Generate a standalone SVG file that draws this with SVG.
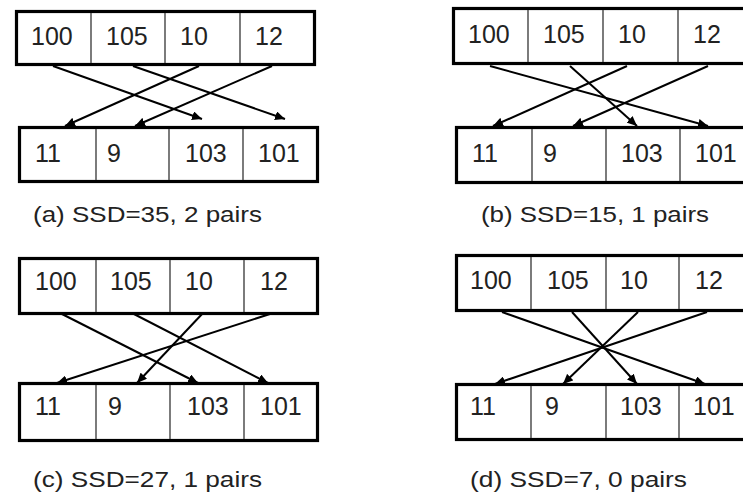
<svg xmlns="http://www.w3.org/2000/svg" width="743" height="496" viewBox="0 0 743 496">
  <style>
    .box { fill: #fff; stroke: #000; stroke-width: 3.2; }
    .div { stroke: #444; stroke-width: 1.4; }
    .val { font-family: "Liberation Sans", Arial, sans-serif; font-size: 25px; fill: #222; }
    .cap { font-family: "Liberation Sans", Arial, sans-serif; font-size: 22px; fill: #222; }
    .arr { stroke: #000; stroke-width: 2; fill: none; marker-end: url(#head); }
  </style>
  <defs>
    <marker id="head" markerUnits="userSpaceOnUse" markerWidth="10" markerHeight="9" refX="10" refY="4.5" orient="auto">
      <path d="M0,0 L10,4.5 L0,9 z" fill="#000"/>
    </marker>
  </defs>
  <rect width="743" height="496" fill="#fff"/>

  <!-- (a) -->
  <g id="a-top">
    <rect class="box" x="16.5" y="11.5" width="298" height="53"/>
    <line class="div" x1="91" y1="13" x2="91" y2="63"/>
    <line class="div" x1="165" y1="13" x2="165" y2="63"/>
    <line class="div" x1="240" y1="13" x2="240" y2="63"/>
    <g id="a-t1"><text class="val" x="31" y="45">100</text></g>
    <g id="a-t2"><text class="val" x="106" y="45">105</text></g>
    <g id="a-t3"><text class="val" x="180" y="45">10</text></g>
    <g id="a-t4"><text class="val" x="255" y="45">12</text></g>
  </g>
  <g id="a-bottom">
    <rect class="box" x="19.5" y="127.5" width="298" height="54"/>
    <line class="div" x1="96" y1="129" x2="96" y2="180"/>
    <line class="div" x1="169" y1="129" x2="169" y2="180"/>
    <line class="div" x1="243" y1="129" x2="243" y2="180"/>
    <g id="a-b1"><text class="val" x="35" y="162">11</text></g>
    <g id="a-b2"><text class="val" x="107" y="162">9</text></g>
    <g id="a-b3"><text class="val" x="185" y="162">103</text></g>
    <g id="a-b4"><text class="val" x="258" y="162">101</text></g>
  </g>
  <g id="a-links">
    <line class="arr" x1="53" y1="66" x2="202" y2="119"/>
    <line class="arr" x1="133" y1="66" x2="285" y2="119"/>
    <line class="arr" x1="199" y1="66" x2="65" y2="126"/>
    <line class="arr" x1="272" y1="66" x2="135" y2="126"/>
  </g>
  <text class="cap" x="33" y="222" textLength="229" lengthAdjust="spacingAndGlyphs">(a) SSD=35, 2 pairs</text>

  <!-- (b) -->
  <g id="b-top">
    <rect class="box" x="453.5" y="8.5" width="300" height="55"/>
    <line class="div" x1="528" y1="10" x2="528" y2="62"/>
    <line class="div" x1="603" y1="10" x2="603" y2="62"/>
    <line class="div" x1="678" y1="10" x2="678" y2="62"/>
    <g id="b-t1"><text class="val" x="468" y="43">100</text></g>
    <g id="b-t2"><text class="val" x="543" y="43">105</text></g>
    <g id="b-t3"><text class="val" x="618" y="43">10</text></g>
    <g id="b-t4"><text class="val" x="693" y="43">12</text></g>
  </g>
  <g id="b-bottom">
    <rect class="box" x="456.5" y="127.5" width="300" height="55"/>
    <line class="div" x1="532" y1="129" x2="532" y2="181"/>
    <line class="div" x1="606" y1="129" x2="606" y2="181"/>
    <line class="div" x1="680" y1="129" x2="680" y2="181"/>
    <g id="b-b1"><text class="val" x="472" y="162">11</text></g>
    <g id="b-b2"><text class="val" x="543" y="162">9</text></g>
    <g id="b-b3"><text class="val" x="621" y="162">103</text></g>
    <g id="b-b4"><text class="val" x="695" y="162">101</text></g>
  </g>
  <g id="b-links">
    <line class="arr" x1="490" y1="66" x2="708" y2="126"/>
    <line class="arr" x1="570" y1="66" x2="637" y2="126"/>
    <line class="arr" x1="627" y1="66" x2="493" y2="126"/>
    <line class="arr" x1="708" y1="66" x2="573" y2="126"/>
  </g>
  <text class="cap" x="481" y="222" textLength="228" lengthAdjust="spacingAndGlyphs">(b) SSD=15, 1 pairs</text>

  <!-- (c) -->
  <g id="c-top">
    <rect class="box" x="19.5" y="258.5" width="298" height="55"/>
    <line class="div" x1="96" y1="260" x2="96" y2="312"/>
    <line class="div" x1="170" y1="260" x2="170" y2="312"/>
    <line class="div" x1="244" y1="260" x2="244" y2="312"/>
    <g id="c-t1"><text class="val" x="35" y="290">100</text></g>
    <g id="c-t2"><text class="val" x="110" y="290">105</text></g>
    <g id="c-t3"><text class="val" x="185" y="290">10</text></g>
    <g id="c-t4"><text class="val" x="260" y="290">12</text></g>
  </g>
  <g id="c-bottom">
    <rect class="box" x="19.5" y="383.5" width="298" height="57"/>
    <line class="div" x1="96" y1="385" x2="96" y2="439"/>
    <line class="div" x1="170" y1="385" x2="170" y2="439"/>
    <line class="div" x1="244" y1="385" x2="244" y2="439"/>
    <g id="c-b1"><text class="val" x="35" y="415">11</text></g>
    <g id="c-b2"><text class="val" x="108" y="415">9</text></g>
    <g id="c-b3"><text class="val" x="187" y="415">103</text></g>
    <g id="c-b4"><text class="val" x="260" y="415">101</text></g>
  </g>
  <g id="c-links">
    <line class="arr" x1="60" y1="313" x2="198" y2="383"/>
    <line class="arr" x1="132" y1="313" x2="268" y2="383"/>
    <line class="arr" x1="203" y1="313" x2="137" y2="383"/>
    <line class="arr" x1="273" y1="313" x2="57" y2="383"/>
  </g>
  <text class="cap" x="33" y="487" textLength="229" lengthAdjust="spacingAndGlyphs">(c) SSD=27, 1 pairs</text>

  <!-- (d) -->
  <g id="d-top">
    <rect class="box" x="456.5" y="255.5" width="300" height="55"/>
    <line class="div" x1="531" y1="257" x2="531" y2="309"/>
    <line class="div" x1="606" y1="257" x2="606" y2="309"/>
    <line class="div" x1="679" y1="257" x2="679" y2="309"/>
    <g id="d-t1"><text class="val" x="470" y="289">100</text></g>
    <g id="d-t2"><text class="val" x="547" y="289">105</text></g>
    <g id="d-t3"><text class="val" x="620" y="289">10</text></g>
    <g id="d-t4"><text class="val" x="695" y="289">12</text></g>
  </g>
  <g id="d-bottom">
    <rect class="box" x="456.5" y="384.5" width="300" height="55"/>
    <line class="div" x1="531" y1="386" x2="531" y2="438"/>
    <line class="div" x1="606" y1="386" x2="606" y2="438"/>
    <line class="div" x1="679" y1="386" x2="679" y2="438"/>
    <g id="d-b1"><text class="val" x="470" y="415">11</text></g>
    <g id="d-b2"><text class="val" x="545" y="415">9</text></g>
    <g id="d-b3"><text class="val" x="620" y="415">103</text></g>
    <g id="d-b4"><text class="val" x="693" y="415">101</text></g>
  </g>
  <g id="d-links">
    <line class="arr" x1="502" y1="312" x2="705" y2="384"/>
    <line class="arr" x1="572" y1="312" x2="637" y2="384"/>
    <line class="arr" x1="638" y1="312" x2="563" y2="384"/>
    <line class="arr" x1="707" y1="312" x2="495" y2="384"/>
  </g>
  <text class="cap" x="470" y="487" textLength="217" lengthAdjust="spacingAndGlyphs">(d) SSD=7, 0 pairs</text>
</svg>
